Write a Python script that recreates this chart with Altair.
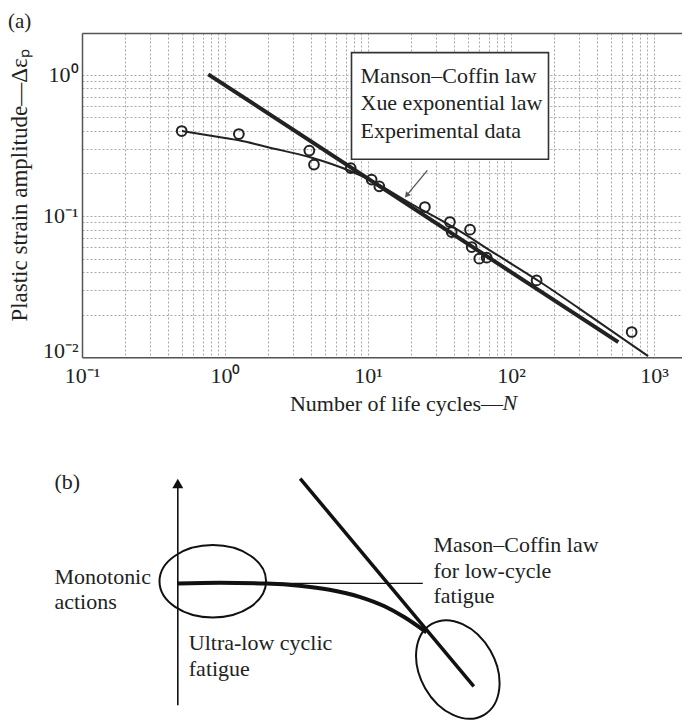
import altair as alt
import pandas as pd

FONT = "Liberation Serif"
INK = "#222222"

# ---------------- Panel (a) data ----------------
exp_N = [0.498, 1.25, 3.89, 4.19, 7.57, 10.6, 12.0, 25.0, 37.4, 38.5, 51.7, 53.1, 60.0, 67.6, 151, 698]
exp_eps = [0.399, 0.380, 0.290, 0.231, 0.218, 0.181, 0.162, 0.1157, 0.0906, 0.077, 0.080, 0.0603, 0.0499, 0.0507, 0.0350, 0.0151]

mc_N = [0.764, 563]
mc_eps = [1.005, 0.0128]

xue_N = [0.5, 1.0, 1.25, 2.0, 4.0, 7.5, 10, 20, 40, 80, 160, 400, 910]
xue_eps = [0.399, 0.356, 0.343, 0.306, 0.259, 0.208, 0.183, 0.122, 0.0826, 0.053, 0.0341, 0.0181, 0.0102]

series = ["Manson–Coffin law", "Xue exponential law", "Experimental data"]

arrow_N = [26.0, 18.65]
arrow_eps = [0.2104, 0.140]

x_grid = [m * 10.0 ** e for e in range(-1, 4) for m in range(1, 10) if m * 10.0 ** e <= 1570]
y_grid = [m * 10.0 ** e for e in range(-2, 1) for m in range(1, 10) if m * 10.0 ** e <= 1.97]
x_decades = [(0.1, "10⁻¹"), (1, "10⁰"), (10, "10¹"), (100, "10²"), (1000, "10³")]
y_decades = [(0.01, "10⁻²"), (0.1, "10⁻¹"), (1, "10⁰")]

# ---------------- Page-frame annotations (linear frame shared with panel b) ----------------
key_box_bx = [312]
key_box_bx2 = [509]
key_box_by = [667.7]
key_box_by2 = [561]
key_lx = [321, 321, 321]
key_ly = [644, 617, 589]

# ---------------- Panel (b) schematic data ----------------
vaxis_bx = [138.3]
vaxis_by = [15]
vaxis_by2 = [232.5]
vhead_by = [236.9]
hline_bx = [138.3]
hline_bx2 = [383.3]
hline_by = [137]
steep_bx = [260.7, 434.3]
steep_by = [241.7, 34]
curve_bx = [138.3, 180, 226.7, 260, 290, 320, 345, 365, 387]
curve_by = [136.7, 137.5, 136.7, 134.5, 130.5, 123.5, 114, 103, 88]
ell1_c = (173.3, 139)
ell2_c = (418.3, 50.8)
b_labels = ["(b)", "Monotonic", "actions", "Ultra-low cyclic", "fatigue",
            "Mason–Coffin law", "for low-cycle", "fatigue"]
b_lx = [15, 15, 15, 149.3, 149.3, 394, 394, 394]
b_ly = [238, 143.3, 118.3, 77.3, 51.7, 175, 149.3, 124.3]
# italic "N" of the x-axis title
n_lx = [463]
n_ly = [317]


def label_expr(pairs):
    parts = [f"abs(datum.value - {v}) < {v * 1e-3} ? '{s}'" for v, s in pairs]
    return " : ".join(parts) + " : ''"


def ellipse_path(k):
    c = 0.5523
    return (f"M1,0 C1,{k*c:.4f} {c},{k:.4f} 0,{k:.4f} "
            f"C{-c},{k:.4f} -1,{k*c:.4f} -1,0 "
            f"C-1,{-k*c:.4f} {-c},{-k:.4f} 0,{-k:.4f} "
            f"C{c},{-k:.4f} 1,{-k*c:.4f} 1,0 Z")


df_exp = pd.DataFrame({"N": exp_N, "eps": exp_eps})
df_mc = pd.DataFrame({"N": mc_N, "eps": mc_eps})
df_xue = pd.DataFrame({"N": xue_N, "eps": xue_eps})
df_arrow = pd.DataFrame({"N": arrow_N, "eps": arrow_eps})

xs = alt.Scale(type="log", domain=[0.1, 1570], nice=False)
ys = alt.Scale(type="log", domain=[0.01, 1.97], nice=False)

grid_style = dict(grid=True, gridDash=[2, 2], gridColor="#a8a8a8", gridWidth=1, ticks=False,
                  domain=True, domainColor="#555555", domainWidth=1.5,
                  labelFont=FONT, labelFontSize=22, labelColor=INK,
                  labelOverlap=False, titleFont=FONT, titleColor=INK, titleFontWeight="normal")

x_axis = alt.Axis(values=x_grid, labelExpr=label_expr(x_decades), labelPadding=8, labelFlush=False,
                  title="Number of life cycles—", titleFontSize=22, titleX=420.5, titleY=46,
                  titleBaseline="middle", titleAlign="right", **grid_style)
y_axis = alt.Axis(values=y_grid, labelExpr=label_expr(y_decades), labelPadding=4,
                  labelBaseline={"condition": {"test": "datum.value < 0.015", "value": "alphabetic"},
                                 "value": "middle"},
                  title="Plastic strain amplitude—Δεₚ", titleFontSize=23, titleX=-63, titleY=152,
                  titleAngle=270, titleBaseline="middle", titleAlign="center", **grid_style)
top_axis = alt.Axis(orient="top", labels=False, ticks=False, grid=False, domain=True,
                    domainColor="#555555", domainWidth=1.5, title=None)

mc = alt.Chart(df_mc).mark_line(strokeWidth=4, strokeCap="butt", color=INK).encode(
    x=alt.X("N:Q", scale=xs, axis=x_axis),
    y=alt.Y("eps:Q", scale=ys, axis=y_axis),
)
xue = alt.Chart(df_xue).mark_line(strokeWidth=2, interpolate="monotone", color=INK).encode(
    x=alt.X("N:Q", scale=xs, axis=None),
    y=alt.Y("eps:Q", scale=ys, axis=None),
)
pts = alt.Chart(df_exp).mark_point(shape="circle", size=95, strokeWidth=2, filled=False,
                                   opacity=1, color=INK).encode(
    x=alt.X("N:Q", scale=xs, axis=top_axis),
    y=alt.Y("eps:Q", scale=ys, axis=None),
)
arrow_line = alt.Chart(df_arrow).mark_line(strokeWidth=1.3, color="#555555").encode(
    x=alt.X("N:Q", scale=xs, axis=None),
    y=alt.Y("eps:Q", scale=ys, axis=None),
)
arrow_head = alt.Chart(df_arrow.iloc[[1]]).mark_point(shape="triangle-up", filled=True, size=40,
                                                      angle=220, color="#555555", opacity=1).encode(
    x=alt.X("N:Q", scale=xs, axis=None),
    y=alt.Y("eps:Q", scale=ys, axis=None),
)

panel_a = alt.layer(mc, xue, pts, arrow_line, arrow_head).resolve_axis(x="independent", y="independent")

# ---------------- Panel (b) + key box ----------------
bxs = alt.Scale(domain=[0, 600], range=[-42.5, 557.5], nice=False, zero=False)
bys = alt.Scale(domain=[0, 250], range=[687.3, 437.3], nice=False, zero=False)


def BX(f="bx"):
    return alt.X(f"{f}:Q", scale=bxs, axis=None)


def BY(f="by"):
    return alt.Y(f"{f}:Q", scale=bys, axis=None)


key_box = alt.Chart(pd.DataFrame({"bx": key_box_bx, "bx2": key_box_bx2, "by": key_box_by,
                                  "by2": key_box_by2})).mark_rect(
    fill="white", stroke="#333333", strokeWidth=1.6).encode(x=BX(), x2="bx2:Q", y=BY(), y2="by2:Q")
key_text = alt.Chart(pd.DataFrame({"bx": key_lx, "by": key_ly, "t": series})).mark_text(
    align="left", baseline="middle", font=FONT, fontSize=22, color=INK).encode(x=BX(), y=BY(), text="t:N")

vaxis = alt.Chart(pd.DataFrame({"bx": vaxis_bx, "by": vaxis_by, "by2": vaxis_by2})).mark_rule(
    strokeWidth=1.6, color="#111111").encode(x=BX(), y=BY(), y2="by2:Q")
vhead = alt.Chart(pd.DataFrame({"bx": vaxis_bx, "by": vhead_by})).mark_point(
    shape="triangle-up", filled=True, size=121, color="#111111", opacity=1).encode(x=BX(), y=BY())
hline = alt.Chart(pd.DataFrame({"bx": hline_bx, "bx2": hline_bx2, "by": hline_by})).mark_rule(
    strokeWidth=1.3, color="#111111").encode(x=BX(), x2="bx2:Q", y=BY())
steep = alt.Chart(pd.DataFrame({"bx": steep_bx, "by": steep_by})).mark_line(
    strokeWidth=3.5, color="#111111").encode(x=BX(), y=BY())
curve = alt.Chart(pd.DataFrame({"bx": curve_bx, "by": curve_by})).mark_line(
    strokeWidth=4, color="#111111", interpolate="monotone").encode(x=BX(), y=BY())
ell1 = alt.Chart(pd.DataFrame({"bx": [ell1_c[0]], "by": [ell1_c[1]]})).mark_point(
    shape=ellipse_path(0.679), size=11364, filled=False, strokeWidth=2, color="#111111", opacity=1
).encode(x=BX(), y=BY())
ell2 = alt.Chart(pd.DataFrame({"bx": [ell2_c[0]], "by": [ell2_c[1]]})).mark_point(
    shape=ellipse_path(0.718), size=10983, angle=60.3, filled=False, strokeWidth=2, color="#111111", opacity=1
).encode(x=BX(), y=BY())
btext = alt.Chart(pd.DataFrame({"bx": b_lx, "by": b_ly, "t": b_labels})).mark_text(
    align="left", baseline="middle", font=FONT, fontSize=22, color=INK).encode(x=BX(), y=BY(), text="t:N")
ntext = alt.Chart(pd.DataFrame({"bx": n_lx, "by": n_ly, "t": ["N"]})).mark_text(
    align="left", baseline="middle", font=FONT, fontSize=22, fontStyle="italic", color=INK
).encode(x=BX(), y=BY(), text="t:N")

panel_b = alt.layer(key_box, key_text, vaxis, vhead, hline, steep, curve, ell1, ell2, btext, ntext)

chart = alt.layer(panel_a, panel_b).resolve_scale(x="independent", y="independent").properties(
    width=600, height=324.3, padding={"top": 3, "left": 0, "right": 0, "bottom": 0},
    title=alt.TitleParams("(a)", anchor="start", frame="bounds", font=FONT, fontSize=21,
                          fontWeight="normal", color=INK, offset=1),
).configure_view(stroke=None).configure(font=FONT, background="white")

chart.save("out.html", embed_options={"renderer": "svg", "actions": False})
